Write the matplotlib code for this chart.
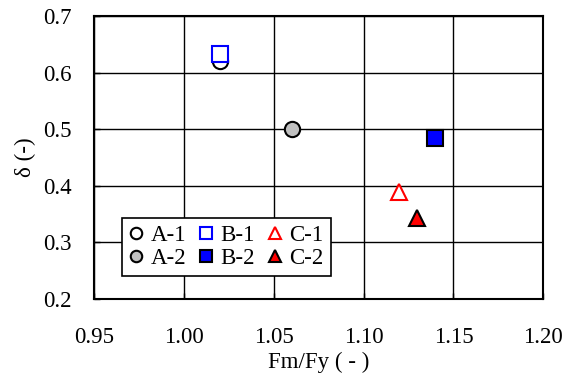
import matplotlib
matplotlib.use("Agg")
import matplotlib.pyplot as plt

plt.rcParams['font.family'] = ['Liberation Serif', 'DejaVu Serif']

labels = ["A-1", "A-2", "B-1", "B-2", "C-1", "C-2"]
fm_fy = [1.02, 1.06, 1.02, 1.14, 1.12, 1.13]
delta = [0.62, 0.50, 0.633, 0.485, 0.39, 0.343]
markers = ["o", "o", "s", "s", "^", "^"]
faces = ["white", "#c0c0c0", "white", "#0000ff", "white", "#ff0000"]
edges = ["black", "black", "#0000ff", "black", "#ff0000", "black"]
sizes = [11, 11, 12, 12, 12, 12]

xticks = [0.95, 1.00, 1.05, 1.10, 1.15, 1.20]
yticks = [0.2, 0.3, 0.4, 0.5, 0.6, 0.7]

fig = plt.figure(figsize=(5.7, 3.81), dpi=100)
ax = fig.add_axes([0.165, 0.215, 0.788, 0.743])

handles = {}
for lab, x, y, m, fc, ec, s in zip(labels, fm_fy, delta, markers, faces, edges, sizes):
    h, = ax.plot([x], [y], linestyle='none', marker=m, markersize=s,
                 markerfacecolor=fc, markeredgecolor=ec, markeredgewidth=1.5,
                 label=lab, zorder=5)
    handles[lab] = h

ax.set_xlim(0.95, 1.20)
ax.set_ylim(0.2, 0.7)
ax.set_xticks(xticks)
ax.set_yticks(yticks)
ax.set_xticklabels([f"{v:.2f}" for v in xticks])
ax.set_yticklabels([f"{v:.1f}" for v in yticks])
ax.grid(True, color='black', linewidth=1.0)
ax.set_axisbelow(True)
for sp in ax.spines.values():
    sp.set_linewidth(1.5)
ax.tick_params(direction='in', length=4, width=1, labelsize=16.5)
ax.tick_params(axis='x', pad=20)
ax.tick_params(axis='y', pad=16)

ax.set_xlabel("Fm/Fy ( - )", fontsize=16.5, labelpad=3)
ax.set_ylabel("δ (-)", fontsize=16.5, labelpad=5)

order = ["A-1", "A-2", "B-1", "B-2", "C-1", "C-2"]
leg = ax.legend([handles[k] for k in order], order, ncol=3, loc='lower left',
                bbox_to_anchor=(0.062, 0.081), fontsize=16.5, frameon=True,
                fancybox=False, edgecolor='black', framealpha=1,
                handlelength=0.6, handletextpad=0.35, columnspacing=0.55,
                labelspacing=0.1, borderpad=0.3, borderaxespad=0,
                markerscale=0.75)
leg.get_frame().set_linewidth(1.2)
leg.set_zorder(10)

fig.savefig("out.png", dpi=100)
